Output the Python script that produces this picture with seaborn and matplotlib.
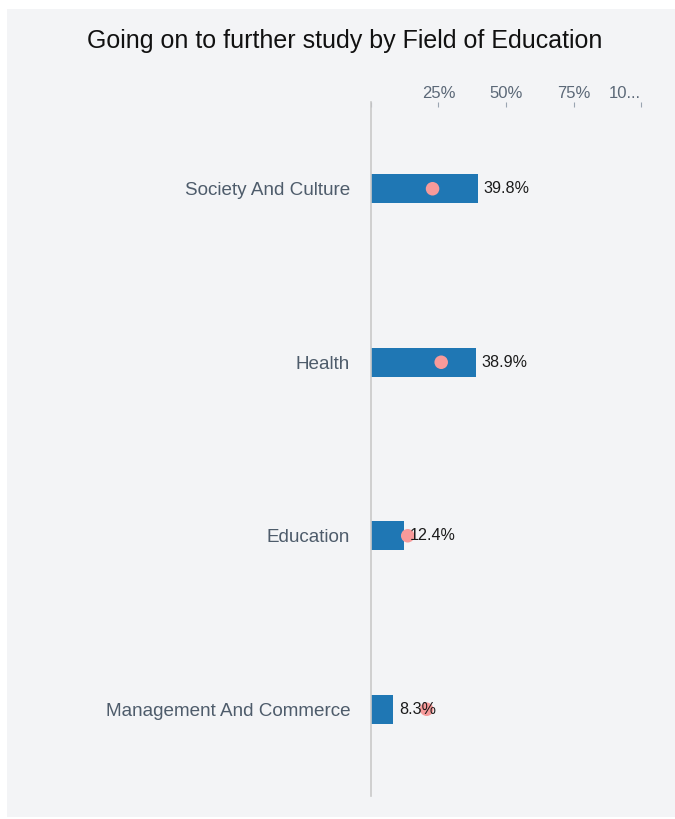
import matplotlib
matplotlib.use("Agg")
import matplotlib.pyplot as plt
from matplotlib.patches import Rectangle
import seaborn as sns
import pandas as pd

# Data
fields = ["Society And Culture", "Health", "Education", "Management And Commerce"]
further_study = [39.8, 38.9, 12.4, 8.3]
comparison = [22.8, 26.0, 13.6, 20.6]
tick_values = [0, 25, 50, 75, 100]
tick_labels = ["", "25%", "50%", "75%", "10..."]
title = "Going on to further study by Field of Education"

df = pd.DataFrame({"field": fields, "value": further_study, "marker": comparison})

sns.set_theme(style="white")
plt.rcParams["font.family"] = ["Liberation Sans", "DejaVu Sans"]

W, H = 675, 819
fig = plt.figure(figsize=(W / 100, H / 100), dpi=100, facecolor="white")

# light card behind the chart
fig.patches.append(Rectangle((7 / W, 1 - 817 / H), (W - 7) / W, (817 - 9) / H,
                             transform=fig.transFigure, facecolor="#f3f4f6",
                             edgecolor="none", zorder=-5))

ax = fig.add_axes([371 / W, 1 - 796 / H, 270 / W, 694 / H])
ax.set_facecolor("none")

sns.barplot(data=df, x="value", y="field", orient="h", color="#1f77b4",
            width=0.167, saturation=1, linewidth=0, ax=ax, zorder=2)
sns.scatterplot(data=df, x="marker", y="field", color="#f79a9a", s=95,
                edgecolor="none", ax=ax, zorder=3, legend=False)

for i, v in enumerate(further_study):
    ax.text(v + 2.0, i, f"{v}%", va="center", ha="left", fontsize=11.6,
            color="#1a1a1a", zorder=4, clip_on=False)

ax.set_xlim(0, 100)
ax.set_ylim(3.5, -0.5)
ax.set_xlabel("")
ax.set_ylabel("")

ax.xaxis.tick_top()
ax.set_xticks(tick_values)
ax.set_xticklabels(tick_labels)
ax.tick_params(axis="x", direction="in", length=3.4, width=0.8, color="#9aa5b1",
               labelsize=12, labelcolor="#5b6877", pad=0.5)
labels = ax.get_xticklabels()
labels[-1].set_horizontalalignment("right")
ax.tick_params(axis="y", length=0, labelsize=13.6, labelcolor="#4e5c6b", pad=15)

for side in ["top", "right", "bottom"]:
    ax.spines[side].set_visible(False)
ax.spines["left"].set_color("#c9c9c9")
ax.spines["left"].set_linewidth(1.2)

fig.text(345 / W, 1 - 41 / H, title, ha="center", va="center", fontsize=18,
         color="#111111")

fig.savefig("out.png", dpi=100, facecolor="white")
